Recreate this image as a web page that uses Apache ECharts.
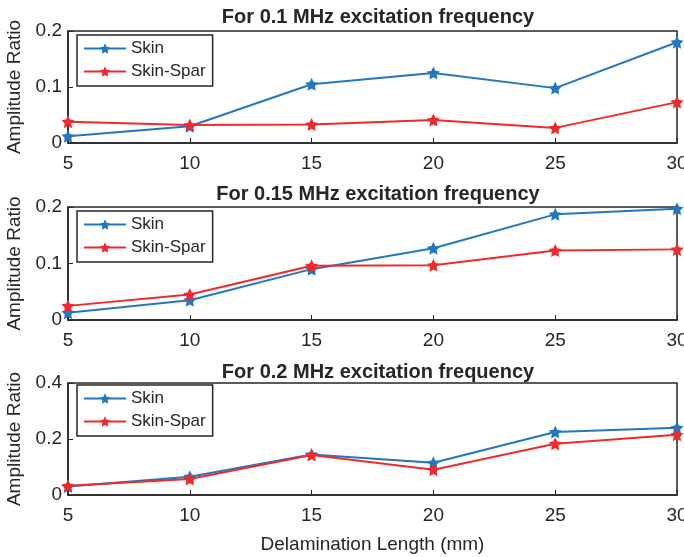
<!DOCTYPE html>
<html>
<head>
<meta charset="utf-8">
<script src="https://cdn.jsdelivr.net/npm/echarts@6/dist/echarts.min.js"></script>
<style>
  html, body { margin: 0; padding: 0; background: #fff; }
  #chart { width: 684px; height: 557px; }
</style>
</head>
<body>
<div id="chart"></div>
<script>
// Delamination lengths (mm) shared by every panel
const lengths = [5, 10, 15, 20, 25, 30];

// Amplitude ratios, one pair of series per excitation frequency
const skin01 = [0.012, 0.030, 0.105, 0.125, 0.098, 0.180];
const spar01 = [0.038, 0.032, 0.033, 0.041, 0.027, 0.073];

const skin015 = [0.013, 0.035, 0.090, 0.127, 0.187, 0.197];
const spar015 = [0.025, 0.045, 0.096, 0.097, 0.123, 0.125];

const skin02 = [0.030, 0.065, 0.145, 0.115, 0.225, 0.240];
const spar02 = [0.033, 0.057, 0.143, 0.090, 0.183, 0.215];

const panelTitles = [
  'For 0.1 MHz excitation frequency',
  'For 0.15 MHz excitation frequency',
  'For 0.2 MHz excitation frequency'
];
const yMax = [0.2, 0.2, 0.4];
const yStep = [0.1, 0.1, 0.2];
const seriesNames = ['Skin', 'Skin-Spar'];
const panels = [[skin01, spar01], [skin015, spar015], [skin02, spar02]];

const BLUE = '#2277c2';
const RED = '#f02a2a';
const FONT = 'Liberation Sans';
const INK = '#262626';
const STAR = 'path://M0,-10 L2.9,-4 L9.5,-3.1 L4.8,1.5 L5.9,8.1 L0,5 L-5.9,8.1 L-4.8,1.5 L-9.5,-3.1 L-2.9,-4 Z';

// vertical placement of each panel (px)
const gridTops = [31, 207, 383];
const gridH = [112, 113, 112];
const titleTops = [2, 179, 357];
const legendTops = [35, 211, 385];

const pair = (ys) => lengths.map((x, i) => [x, ys[i]]);

const option = {
  animation: false,
  backgroundColor: '#fff',
  textStyle: { fontFamily: FONT },
  title: panelTitles.map((t, i) => ({
    text: t,
    left: 373,
    textAlign: 'center',
    top: titleTops[i],
    textStyle: { fontFamily: FONT, fontSize: 20, fontWeight: 'bold', color: INK }
  })),
  legend: gridTops.map((t, i) => ({
    data: seriesNames,
    orient: 'vertical',
    left: 77,
    top: legendTops[i],
    itemWidth: 42,
    itemHeight: 13,
    itemGap: 6,
    padding: [5, 7, 6, 6],
    borderColor: INK,
    borderWidth: 1.5,
    textStyle: { fontFamily: FONT, fontSize: 17, color: INK },
    selectedMode: false
  })),
  grid: gridTops.map((t, i) => ({
    left: 68, right: 7, top: t, height: gridH[i],
    outerBoundsMode: 'none',
    show: true, borderColor: INK, borderWidth: 1.5, backgroundColor: 'transparent'
  })),
  xAxis: gridTops.map((t, i) => ({
    type: 'value', gridIndex: i, min: 5, max: 30, interval: 5,
    axisLine: { lineStyle: { color: INK, width: 1.5 } },
    axisTick: { inside: true, length: 5, lineStyle: { color: INK } },
    axisLabel: { fontFamily: FONT, fontSize: 19, color: INK, margin: 11 },
    splitLine: { show: false },
    name: i === 2 ? 'Delamination Length (mm)' : '',
    nameLocation: 'middle',
    nameGap: 40,
    nameTextStyle: { fontFamily: FONT, fontSize: 19, color: INK }
  })),
  yAxis: gridTops.map((t, i) => ({
    type: 'value', gridIndex: i, min: 0, max: yMax[i], interval: yStep[i],
    axisLine: { show: true, lineStyle: { color: INK, width: 1.5 } },
    axisTick: { show: true, inside: true, length: 5, lineStyle: { color: INK } },
    axisLabel: { fontFamily: FONT, fontSize: 19, color: INK, margin: 6 },
    splitLine: { show: false },
    name: 'Amplitude Ratio',
    nameLocation: 'middle',
    nameGap: 42,
    nameTextStyle: { fontFamily: FONT, fontSize: 19, color: INK }
  })),
  series: panels.flatMap((p, i) => [
    {
      name: seriesNames[0], type: 'line', xAxisIndex: i, yAxisIndex: i,
      data: pair(p[0]), symbol: STAR, symbolSize: 13,
      color: BLUE, lineStyle: { width: 2, color: BLUE }
    },
    {
      name: seriesNames[1], type: 'line', xAxisIndex: i, yAxisIndex: i,
      data: pair(p[1]), symbol: STAR, symbolSize: 13,
      color: RED, lineStyle: { width: 2, color: RED }
    }
  ])
};

echarts.init(document.getElementById('chart')).setOption(option);
</script>
</body>
</html>
